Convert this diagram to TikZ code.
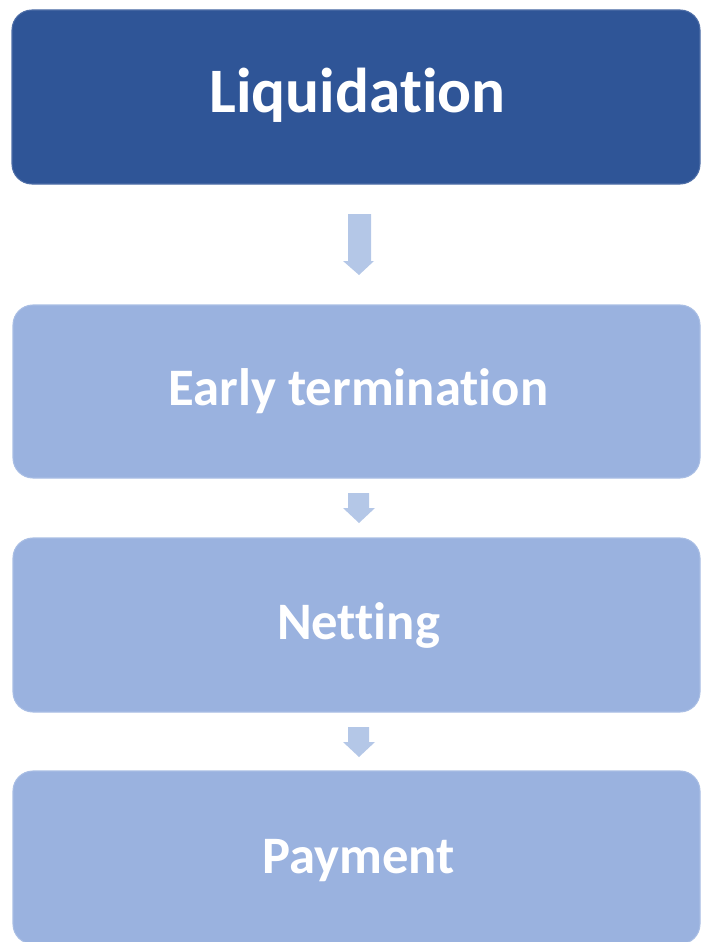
\documentclass[tikz,border=0pt]{standalone}
\usepackage{fontspec}
\setmainfont{Carlito}[Ligatures={NoCommon,NoDiscretionary,NoRare}]
\definecolor{darkstep}{HTML}{2F5597}
\definecolor{lightstep}{HTML}{9AB2DF}
\definecolor{arrowblue}{HTML}{B4C7E7}
\tikzset{
  stepbox/.style={rounded corners=15, draw=#1!85!white, line width=0.8, fill=#1},
  steplabel/.style={text=white, font=\bfseries\fontsize{39.5}{42}\selectfont, anchor=base, inner sep=0},
  blockarrow/.style={fill=arrowblue},
}
\begin{document}
\begin{tikzpicture}[x=0.75pt, y=-0.75pt]
  \useasboundingbox (0,0) rectangle (702,942);
  \begin{scope}
    \clip (0,0) rectangle (702,942);
    % step boxes
    \path[stepbox=darkstep]  (12,10)  rectangle (700,184);
    \path[stepbox=lightstep] (13,305) rectangle (700,478);
    \path[stepbox=lightstep] (13,538) rectangle (700,712);
    \path[stepbox=lightstep] (13,771) rectangle (700,944);
  \end{scope}
  % labels
  \node[steplabel, font=\bfseries\fontsize{47.5}{50}\selectfont] (liq) at (357.5,113) {Liquidation};
  \node[steplabel] (early) at (358.5,405) {Early termination};
  \node[steplabel] (net) at (358.5,639) {Netting};
  \node[steplabel] (pay) at (358.5,873) {Payment};
  % block arrows between the steps
  \fill[blockarrow] (348,214) -- (371,214) -- (371,261) -- (374,261) -- (359,275)
    -- (343,261) -- (348,261) -- cycle;
  \fill[blockarrow] (348,493) -- (369,493) -- (369,508) -- (375,508) -- (359,523)
    -- (343,508) -- (348,508) -- cycle;
  \fill[blockarrow] (348,727) -- (369,727) -- (369,742) -- (375,742) -- (359,757)
    -- (343,742) -- (348,742) -- cycle;
\end{tikzpicture}
\end{document}
